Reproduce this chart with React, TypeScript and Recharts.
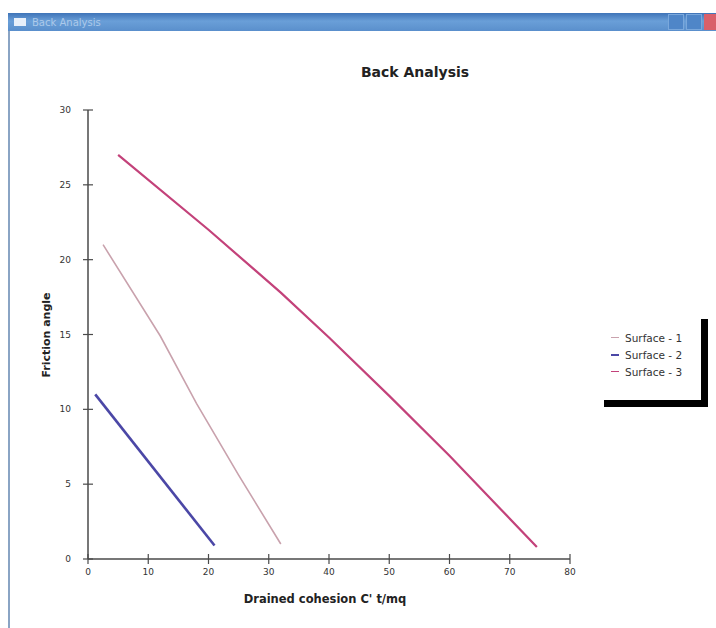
import { Line, LineChart, XAxis, YAxis } from "recharts";

// drained cohesion C' (t/mq) vs friction angle
const surface1C = [2.5, 12, 18, 25, 32];
const surface1Phi = [21, 14.9, 10.4, 5.6, 1];
const surface2C = [1.2, 21];
const surface2Phi = [11, 0.9];
const surface3C = [5, 20, 32, 40, 50, 60, 74.5];
const surface3Phi = [27, 22, 17.8, 14.8, 10.9, 6.9, 0.8];

const xTicks = [0, 10, 20, 30, 40, 50, 60, 70, 80];
const yTicks = [0, 5, 10, 15, 20, 25, 30];
const seriesNames = ["Surface - 1", "Surface - 2", "Surface - 3"];

const colors = ["#c9a2ad", "#4b47a6", "#c3427a"];
const widths = [1.6, 2.6, 2.2];

const toPoints = (c: number[], phi: number[]) => c.map((v, i) => ({ c: v, phi: phi[i] }));
const series = [
  toPoints(surface1C, surface1Phi),
  toPoints(surface2C, surface2Phi),
  toPoints(surface3C, surface3Phi),
];

const PLOT_LEFT = 88;
const PLOT_BOTTOM = 559;
const axisColor = "#4a4a4a";
const font = "'DejaVu Sans', Verdana, sans-serif";

function YTick({ y, payload }: any) {
  return (
    <g>
      <line x1={PLOT_LEFT - 5} x2={PLOT_LEFT + 5} y1={y} y2={y} stroke={axisColor} strokeWidth={1.2} />
      <text x={PLOT_LEFT - 17} y={y} dy={3} textAnchor="end" fontSize={9} fill="#333" fontFamily={font}>
        {payload.value}
      </text>
    </g>
  );
}

function XTick({ x, payload }: any) {
  return (
    <g>
      <line x1={x} x2={x} y1={PLOT_BOTTOM - 5} y2={PLOT_BOTTOM + 5} stroke={axisColor} strokeWidth={1.2} />
      <text x={x} y={PLOT_BOTTOM + 16} textAnchor="middle" fontSize={9} fill="#333" fontFamily={font}>
        {payload.value}
      </text>
    </g>
  );
}

function LegendBox() {
  return (
    <div
      style={{
        position: "absolute",
        left: 604,
        top: 319,
        width: 97,
        height: 71,
        borderRight: "7px solid #000",
        borderBottom: "7px solid #000",
        paddingTop: 10,
        fontFamily: font,
        fontSize: 10.5,
        color: "#333",
      }}
    >
      {seriesNames.map((name, i) => (
        <div key={name} style={{ display: "flex", alignItems: "center", height: 17, paddingLeft: 7 }}>
          <span
            style={{ display: "inline-block", width: 8, height: i === 1 ? 2 : 1.5, background: colors[i], marginRight: 6 }}
          />
          {name}
        </div>
      ))}
    </div>
  );
}

function TitleBar() {
  return (
    <div
      style={{
        position: "absolute",
        left: 8,
        top: 13,
        width: 708,
        height: 18,
        background: "linear-gradient(180deg, #3f74b8 0%, #6a9fd8 45%, #5a8fcc 100%)",
        display: "flex",
        alignItems: "center",
        fontFamily: font,
        fontSize: 10,
        color: "#dbe8f8",
      }}
    >
      <span style={{ display: "inline-block", width: 12, height: 8, background: "#e8f0fa", marginLeft: 6, marginRight: 6 }} />
      <span style={{ opacity: 0.6 }}>Back Analysis</span>
      <span style={{ flex: 1 }} />
      <span style={{ width: 14, height: 14, background: "#4f86c8", border: "1px solid #7aa8dc", marginRight: 2 }} />
      <span style={{ width: 14, height: 14, background: "#4f86c8", border: "1px solid #7aa8dc", marginRight: 2 }} />
      <span style={{ width: 12, height: 16, background: "#d9606a" }} />
    </div>
  );
}

export default function App() {
  return (
    <div style={{ position: "fixed", left: 0, top: 0, width: 716, height: 628, background: "#fff", overflow: "hidden" }}>
      <TitleBar />
      <div style={{ position: "absolute", left: 8, top: 31, width: 1.5, height: 597, background: "#8aa4c4" }} />
      <LineChart
        width={716}
        height={628}
        margin={{ top: 110, right: 146, bottom: 39, left: 48 }}
        style={{ position: "absolute", left: 0, top: 0 }}
      >
        <text x={415} y={77} textAnchor="middle" fontSize={14} fontWeight={600} fill="#222" fontFamily={font}>
          Back Analysis
        </text>
        <text
          x={50}
          y={335}
          transform="rotate(-90 50 335)"
          textAnchor="middle"
          fontSize={11}
          fontWeight={700}
          fill="#222"
          fontFamily={font}
        >
          Friction angle
        </text>
        <text x={325} y={603} textAnchor="middle" fontSize={11.5} fontWeight={700} fill="#222" fontFamily={font}>
          Drained cohesion C'  t/mq
        </text>
        <XAxis
          dataKey="c"
          type="number"
          domain={[0, 80]}
          ticks={xTicks}
          allowDuplicatedCategory={false}
          axisLine={{ stroke: axisColor, strokeWidth: 1.5 }}
          tickLine={false}
          tick={<XTick />}
          height={30}
        />
        <YAxis
          dataKey="phi"
          type="number"
          domain={[0, 30]}
          ticks={yTicks}
          axisLine={{ stroke: axisColor, strokeWidth: 1.5 }}
          tickLine={false}
          tick={<YTick />}
          width={40}
        />
        {series.map((data, i) => (
          <Line
            key={seriesNames[i]}
            name={seriesNames[i]}
            data={data}
            dataKey="phi"
            type="linear"
            stroke={colors[i]}
            strokeWidth={widths[i]}
            dot={false}
            isAnimationActive={false}
          />
        ))}
      </LineChart>
      <LegendBox />
    </div>
  );
}
